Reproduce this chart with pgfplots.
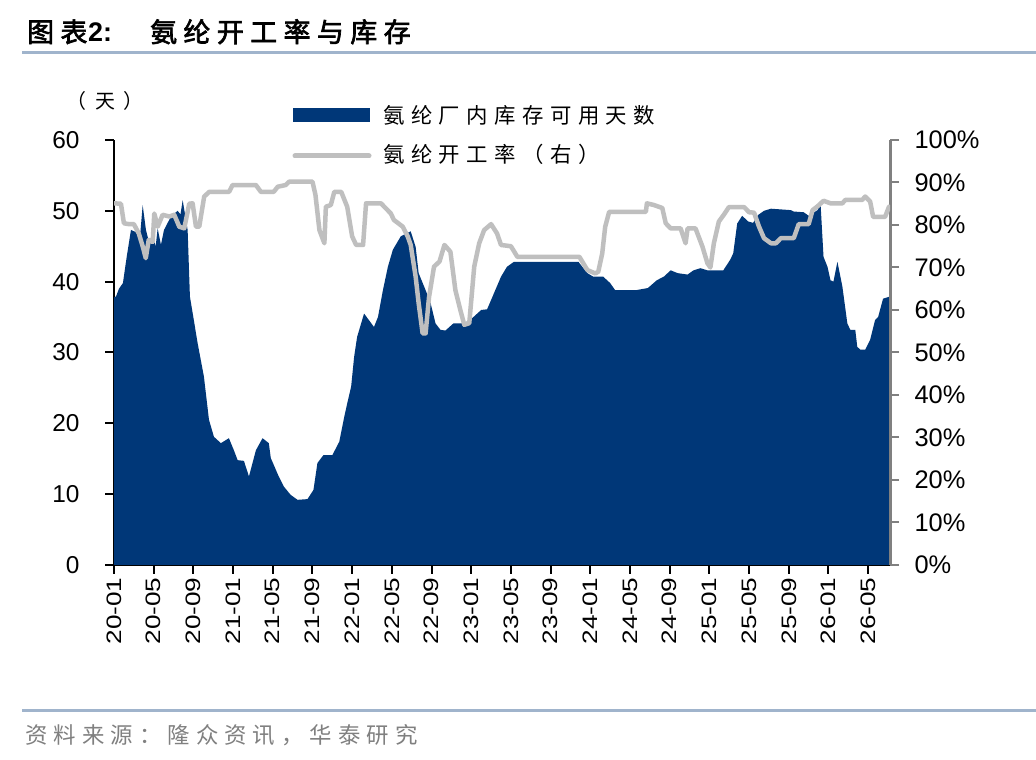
\documentclass[border=0pt]{standalone}
\usepackage{graphicx}
\usepackage{pgfplots}
\pgfplotsset{compat=1.18}
\usepackage{fontspec}
\setmainfont{Liberation Sans}
\newfontfamily\cjk[LetterSpace=45]{Noto Sans CJK SC}
\newfontfamily\cjkT[LetterSpace=24,FakeBold=2.5]{Noto Sans CJK SC}
\newfontfamily\cjkL[LetterSpace=30]{Noto Sans CJK SC}
\newfontfamily\cjkF[LetterSpace=27]{Noto Sans CJK SC}
\definecolor{navy}{RGB}{0,55,120}
\definecolor{lgray}{RGB}{191,191,191}
\definecolor{rulec}{RGB}{160,180,204}
\definecolor{axgray}{RGB}{128,128,128}

\pgfplotstableread{
m d
0 37.8
0.2 37.9
0.5 39.0
0.9 39.8
1.28 43.5
1.71 47.3
2.2 47.0
2.6 46.0
2.89 50.8
3.22 47.3
3.6 45.2
3.9 46.4
4.2 45.0
4.4 47.5
4.73 45.2
5.04 47.3
5.74 49.2
6.41 50.0
6.7 49.5
6.92 51.5
7.42 47.3
7.65 37.9
8.43 31.3
9.06 26.6
9.57 20.5
10.07 18.1
10.77 17.2
11.58 17.9
12.08 16.2
12.46 14.8
13.09 14.7
13.6 12.5
14.3 16.2
14.97 17.9
15.6 17.2
15.8 15.1
16.6 12.5
17.1 11.1
17.8 9.9
18.5 9.2
19.5 9.3
20.1 10.6
20.5 14.4
21.1 15.5
22.0 15.5
22.7 17.4
23.2 20.9
23.5 22.8
23.9 25.2
24.2 29.4
24.5 32.2
25.2 35.5
26.2 33.6
26.6 35.0
27.1 38.8
27.6 42.1
28.1 44.5
28.9 46.4
29.9 47.1
30.4 44.9
30.7 41.2
31.4 38.8
31.9 37.0
32.4 34.1
32.9 33.2
33.4 33.1
34.2 34.1
35.2 34.1
35.9 34.6
37.0 36.0
37.6 36.1
38.3 38.4
39.0 40.7
39.6 42.1
40.3 42.8
46.8 42.8
47.7 41.2
48.3 40.7
49.3 40.7
50.0 39.8
50.5 38.8
52.6 38.8
53.8 39.1
54.7 40.2
55.4 40.7
56.1 41.6
56.8 41.2
57.8 41.0
58.4 41.6
59.1 41.9
59.8 41.6
61.4 41.6
62.1 43.1
62.4 44.0
62.8 48.2
63.3 49.3
63.9 48.5
64.4 48.3
64.9 49.4
65.5 50.0
66.2 50.3
68.2 50.1
68.5 49.9
69.5 49.8
70.0 49.3
70.9 50.1
71.2 51.0
71.5 43.5
71.9 42.1
72.2 40.2
72.5 40.0
72.9 42.8
73.4 39.3
73.9 34.1
74.2 33.2
74.7 33.2
74.9 30.8
75.2 30.4
75.7 30.4
76.2 31.8
76.7 34.6
77.0 35.0
77.5 37.6
78.2 37.9
}\invtable

\pgfplotstableread{
m u
0 85.1
0.7 85.0
1.0 80.4
1.5 80.2
2.0 80.2
2.5 78.0
2.9 74.9
3.2 72.2
3.5 76.5
3.9 76.0
4.06 82.7
4.4 79.6
4.9 82.4
5.57 82.0
6.07 82.4
6.58 79.6
7.08 79.2
7.58 85.0
7.92 85.1
8.26 79.6
8.59 79.6
9.09 86.7
9.6 87.8
11.6 87.8
11.95 89.4
14.3 89.4
14.8 87.8
16.1 87.8
16.5 89.0
17.3 89.4
17.65 90.2
20.0 90.2
20.3 87.1
20.7 78.8
21.2 75.7
21.35 84.3
21.85 84.7
22.2 87.8
22.9 87.8
23.5 84.3
24.0 77.3
24.4 75.3
25.1 75.3
25.4 85.1
26.9 85.1
27.9 82.7
28.2 81.2
29.1 79.6
29.6 77.3
29.9 75.3
30.4 67.8
30.7 61.6
31.1 54.5
31.4 54.5
31.75 63.1
32.25 70.2
32.8 71.4
33.3 75.3
33.9 73.7
34.4 64.7
34.9 60.0
35.3 56.5
35.8 56.9
36.3 70.2
36.8 75.7
37.3 78.8
38.0 80.2
38.6 78.0
39.0 75.3
40.0 75.0
40.65 72.5
46.9 72.5
47.7 69.4
48.5 68.6
48.8 69.0
49.2 73.3
49.5 79.6
49.9 83.1
53.6 83.1
53.7 85.1
54.4 84.7
55.25 84.0
55.6 80.4
56.1 79.2
57.1 79.2
57.6 75.7
57.8 79.2
58.6 79.2
59.3 74.9
59.8 71.0
60.1 70.0
60.45 75.7
60.95 80.8
61.45 82.4
61.96 84.2
63.5 84.2
64.0 83.0
64.5 82.9
65.0 79.6
65.5 76.9
66.2 75.7
66.7 75.7
67.2 76.9
68.5 76.9
69.0 80.2
70.0 80.2
70.4 83.5
70.9 84.4
71.5 85.7
72.2 85.1
73.4 85.1
73.7 85.9
75.4 85.9
75.7 86.7
76.2 85.5
76.5 81.9
77.7 81.9
78.1 84.3
}\utiltable

\begin{document}
\begin{tikzpicture}[x=1bp,y=1bp]
\fill[white] (0,0) rectangle (1036,760);
\path[use as bounding box] (0,0) rectangle (1036,760);

\begin{axis}[
  at={(114bp,195bp)}, anchor=south west, scale only axis,
  width=776bp, height=425bp,
  xmin=0, xmax=78.2, ymin=0, ymax=60,
  axis x line*=bottom, axis y line*=left,
  axis line style={-},
  x axis line style={black, line width=3bp},
  y axis line style={black, line width=2bp},
  tick align=outside, major tick length=9bp,
  tick style={black, line width=2bp},
  xtick={0,4,...,76},
  xticklabels={\scalebox{1.25}[1]{20-01},\scalebox{1.25}[1]{20-05},\scalebox{1.25}[1]{20-09},\scalebox{1.25}[1]{21-01},\scalebox{1.25}[1]{21-05},\scalebox{1.25}[1]{21-09},\scalebox{1.25}[1]{22-01},\scalebox{1.25}[1]{22-05},\scalebox{1.25}[1]{22-09},\scalebox{1.25}[1]{23-01},\scalebox{1.25}[1]{23-05},\scalebox{1.25}[1]{23-09},\scalebox{1.25}[1]{24-01},\scalebox{1.25}[1]{24-05},\scalebox{1.25}[1]{24-09},\scalebox{1.25}[1]{25-01},\scalebox{1.25}[1]{25-05},\scalebox{1.25}[1]{25-09},\scalebox{1.25}[1]{26-01},\scalebox{1.25}[1]{26-05}},
  xticklabel style={rotate=90, anchor=east, font=\fontsize{21}{21}\selectfont},
  ytick={0,10,...,60},
  yticklabel style={font=\fontsize{24.5}{24.5}\selectfont, xshift=-22bp},
  /pgf/number format/assume math mode=true,
  clip=false,
]
\addplot[fill=navy, draw=none] table[x=m,y=d] {\invtable} \closedcycle;
\end{axis}

\begin{axis}[
  at={(114bp,195bp)}, anchor=south west, scale only axis,
  width=776bp, height=425bp,
  xmin=0, xmax=78.2, ymin=0, ymax=100,
  axis x line=none, axis y line*=right,
  axis line style={-},
  y axis line style={axgray, line width=3bp},
  tick align=outside, major tick length=9bp,
  ytick style={axgray, line width=2bp},
  ytick={0,10,...,100},
  yticklabel={\pgfmathprintnumber{\tick}\%},
  yticklabel style={font=\fontsize{25.5}{25.5}\selectfont, xshift=12bp},
  /pgf/number format/assume math mode=true,
]
\addplot[lgray, line width=4.5bp, line join=round, line cap=round] table[x=m,y=u] {\utiltable};
\end{axis}

% title and rules
\node[anchor=base west, inner sep=0] at (27,718) {\cjkT\fontsize{27}{27}\selectfont 图表};
\node[anchor=base west, inner sep=0] at (88,718) {\fontsize{27}{27}\selectfont\bfseries 2:};
\node[anchor=base west, inner sep=0] at (150,718) {\cjkT\fontsize{27}{27}\selectfont 氨纶开工率与库存};
\draw[rulec, line width=3bp] (22,707) -- (1036,707);
\draw[rulec, line width=3bp] (22,49) -- (1036,49);
\node[anchor=west, inner sep=0, text=axgray] at (25,25) {\cjkF\fontsize{22.5}{22.5}\selectfont 资料来源：隆众资讯，华泰研究};

% unit label
\node[anchor=west, inner sep=0] at (66,659) {\cjk\fontsize{20}{20}\selectfont （天）};

% legend
\fill[navy] (293,638) rectangle (370,652);
\node[anchor=west, inner sep=0] at (383,645) {\cjkL\fontsize{21.5}{21.5}\selectfont 氨纶厂内库存可用天数};
\draw[lgray, line width=5bp, line cap=round] (295,604) -- (369,604);
\node[anchor=west, inner sep=0] at (383,606) {\cjkL\fontsize{21.5}{21.5}\selectfont 氨纶开工率（右）};
\end{tikzpicture}
\end{document}
